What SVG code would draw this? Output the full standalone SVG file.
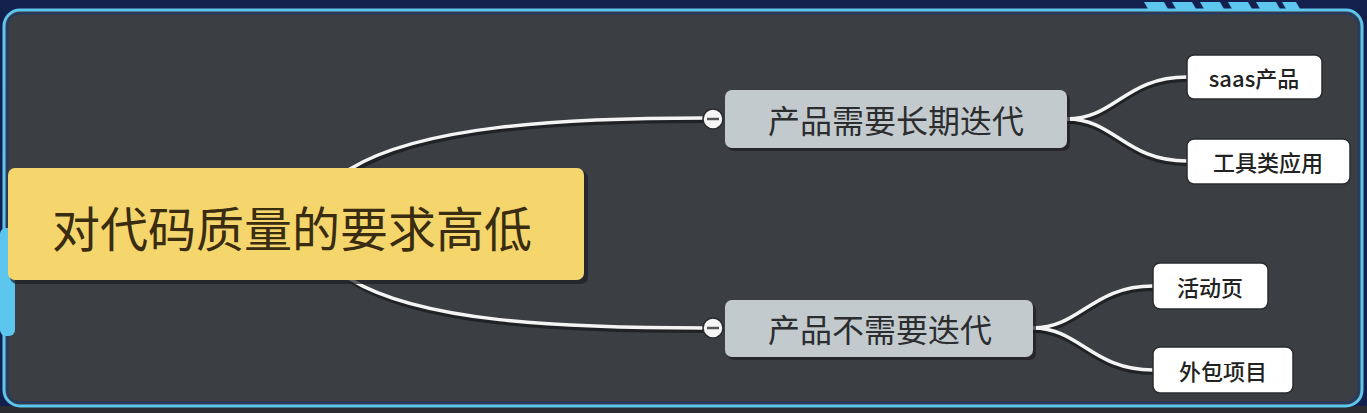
<svg xmlns="http://www.w3.org/2000/svg" width="1367" height="413" viewBox="0 0 1367 413">
<defs>
<style>
.cn{font-family:"Noto Sans CJK SC","Liberation Sans",sans-serif;text-anchor:middle;dominant-baseline:central}
.shadow{fill:#1c1e22;opacity:0.7}
.wire{fill:none;stroke:#f4f4f4;stroke-width:3.5;stroke-linecap:round}
.wireS{fill:none;stroke:#1a1b1f;stroke-width:6;stroke-linecap:round;opacity:0.8}
.leaf rect.box{fill:#ffffff;stroke:#2a2b2f;stroke-width:1.5}
.leaf text{font-size:22px;font-weight:500;fill:#222}
.branch rect.box{fill:#c3cacd}
.branch text{font-size:32px;fill:#2b2d2f}
.stripe{fill:#5cc6ee}
</style>
</defs>
<!-- outer background -->
<rect x="0" y="0" width="1367" height="413" fill="#13204d"/>
<rect x="0" y="406" width="1367" height="7" fill="#2a2c31"/>
<!-- top stripes -->
<g id="stripes">
<polygon class="stripe" points="1144,2 1164,2 1172,16 1152,16"/>
<polygon class="stripe" points="1172,2 1192,2 1200,16 1180,16"/>
<polygon class="stripe" points="1200,2 1220,2 1228,16 1208,16"/>
<polygon class="stripe" points="1228,2 1248,2 1256,16 1236,16"/>
<polygon class="stripe" points="1256,2 1276,2 1284,16 1264,16"/>
<polygon class="stripe" points="1282,2 1296,2 1304,16 1290,16"/>
</g>
<!-- frame -->
<rect x="4" y="10" width="1358" height="396" rx="16" fill="#3b3e43" stroke="#5cc6ee" stroke-width="3"/>
<rect x="7.5" y="13.5" width="1351" height="389" rx="13" fill="none" stroke="#1e3a6e" stroke-width="1.5"/>
<!-- left tab -->
<rect id="tab" x="0" y="228" width="15" height="108" rx="6" fill="#5cc6ee"/>
<!-- connectors -->
<g id="connectors">
<path class="wireS" d="M352,171 C420,128 560,120 705,120"/>
<path class="wireS" d="M352,281 C420,324 560,330 705,330"/>
<path class="wireS" d="M1067,121 C1115,121 1125,79 1187,79"/>
<path class="wireS" d="M1067,121 C1115,121 1125,163 1187,163"/>
<path class="wireS" d="M1033,330 C1080,330 1092,288 1153,288"/>
<path class="wireS" d="M1033,330 C1080,330 1092,372 1153,372"/>
<path class="wire" d="M350,169 C420,126 560,118 705,118"/>
<path class="wire" d="M350,279 C420,322 560,328 705,328"/>
<path class="wire" d="M1067,119 C1115,119 1125,77 1187,77"/>
<path class="wire" d="M1067,119 C1115,119 1125,161 1187,161"/>
<path class="wire" d="M1033,328 C1080,328 1092,286 1153,286"/>
<path class="wire" d="M1033,328 C1080,328 1092,370 1153,370"/>
</g>
<!-- root -->
<g id="root">
<rect class="shadow" x="10" y="171" width="578" height="113" rx="7"/>
<rect x="8" y="168" width="576" height="112" rx="7" fill="#f4d66c"/>
<text class="cn" x="292" y="226" font-size="48" fill="#3a2c10">对代码质量的要求高低</text>
</g>
<!-- branch 1 -->
<g id="branch-long" class="branch">
<rect class="shadow" x="727" y="93" width="343" height="58" rx="7"/>
<rect class="box" x="725" y="90" width="342" height="58" rx="7"/>
<text class="cn" x="896" y="119">产品需要长期迭代</text>
<circle cx="713" cy="119" r="10" fill="#f6f6f6" stroke="#2a2b2f" stroke-width="1.5"/>
<line x1="707" y1="119" x2="719" y2="119" stroke="#555" stroke-width="2.5"/>
</g>
<!-- branch 2 -->
<g id="branch-none" class="branch">
<rect class="shadow" x="727" y="303" width="309" height="57" rx="7"/>
<rect class="box" x="725" y="300" width="308" height="57" rx="7"/>
<text class="cn" x="880" y="328">产品不需要迭代</text>
<circle cx="713" cy="328" r="10" fill="#f6f6f6" stroke="#2a2b2f" stroke-width="1.5"/>
<line x1="707" y1="328" x2="719" y2="328" stroke="#555" stroke-width="2.5"/>
</g>
<!-- leaves -->
<g id="leaf-saas" class="leaf">
<rect class="box" x="1187" y="55" width="135" height="44" rx="7"/>
<text class="cn" x="1254" y="77">saas产品</text>
</g>
<g id="leaf-tool" class="leaf">
<rect class="box" x="1187" y="139" width="163" height="45" rx="7"/>
<text class="cn" x="1268" y="161">工具类应用</text>
</g>
<g id="leaf-activity" class="leaf">
<rect class="box" x="1153" y="263" width="115" height="46" rx="7"/>
<text class="cn" x="1210" y="286">活动页</text>
</g>
<g id="leaf-outsource" class="leaf">
<rect class="box" x="1153" y="347" width="140" height="46" rx="7"/>
<text class="cn" x="1223" y="370">外包项目</text>
</g>
</svg>
